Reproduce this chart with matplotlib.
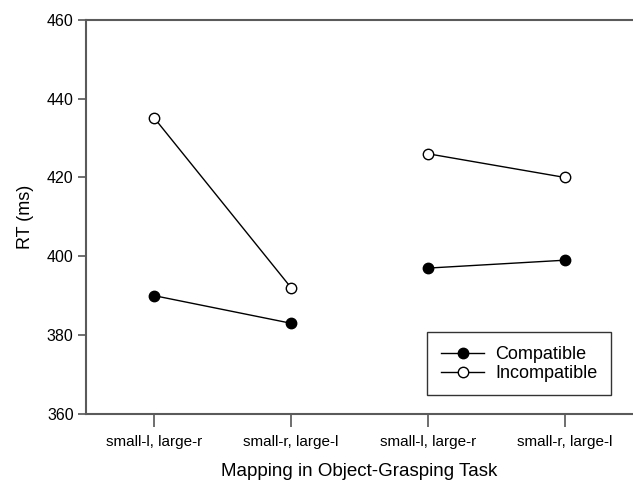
import numpy as np
import matplotlib.pyplot as plt

plt.rcParams['font.family'] = ['Liberation Sans', 'DejaVu Sans']

# data
tick_labels = ['small-l, large-r', 'small-r, large-l', 'small-l, large-r', 'small-r, large-l']
compatible = [390, 383, 397, 399]
incompatible = [435, 392, 426, 420]
groups = [[0, 1], [2, 3]]

x = np.arange(1, len(tick_labels) + 1)

fig = plt.figure(figsize=(6.33, 4.8), dpi=100)
ax = fig.add_axes([0.136, 0.1375, 0.864, 0.8215])

for i, g in enumerate(groups):
    ax.plot(x[g], np.array(compatible)[g], '-o', color='black', lw=1,
            markersize=7.5, markerfacecolor='black', markeredgecolor='black',
            label='Compatible' if i == 0 else None, zorder=3)
    ax.plot(x[g], np.array(incompatible)[g], '-o', color='black', lw=1,
            markersize=7.5, markerfacecolor='white', markeredgecolor='black',
            label='Incompatible' if i == 0 else None, zorder=3)

ax.set_xlim(0.5, 4.5)
ax.set_ylim(360, 460)
ax.set_yticks(np.arange(360, 461, 20))
ax.set_xticks(x)
ax.set_xticklabels(tick_labels, fontsize=11)
ax.tick_params(axis='y', labelsize=11.5, length=6, width=1.2, color='#555555', pad=3)
ax.tick_params(axis='x', length=9, width=1.2, color='#555555', pad=6)

for s in ['left', 'bottom', 'top']:
    ax.spines[s].set_color('#5a5a5a')
    ax.spines[s].set_linewidth(1.5)
ax.spines['right'].set_visible(False)

ax.set_xlabel('Mapping in Object-Grasping Task', fontsize=13.5, labelpad=10)
ax.set_ylabel('RT (ms)', fontsize=13, labelpad=9)

leg = ax.legend(loc='center', bbox_to_anchor=(0.792, 0.127), fontsize=13,
                frameon=True, fancybox=False, framealpha=1, edgecolor='#333333',
                handlelength=2.4, handletextpad=0.6, labelspacing=0.1,
                borderpad=0.75, borderaxespad=0)
leg.get_frame().set_linewidth(1.0)

fig.savefig('out.png', dpi=100)
